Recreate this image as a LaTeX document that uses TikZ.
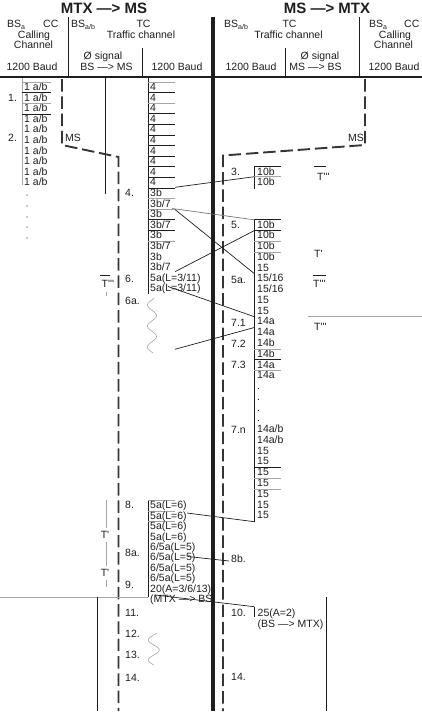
\documentclass[tikz,border=0pt]{standalone}
\usepackage{tikz}
\usepackage{fontspec}
\setmainfont{Liberation Sans}
\definecolor{ink}{HTML}{1E1E1E}
\definecolor{gry}{HTML}{A6A6A6}
\newcommand\tq{\textquotesingle}
\newcommand\sbs[1]{\raisebox{-1.8pt}{\fontsize{7}{7}\selectfont #1}}
\begin{document}
\begin{tikzpicture}[x=1pt,y=-1pt,
  txt/.style={inner sep=0pt, font=\fontsize{10.5}{11}\selectfont, text=ink},
  rowt/.style={txt, anchor=base west},
  hd/.style={txt, anchor=base},
  ttl/.style={inner sep=0pt, font=\fontsize{15}{16}\selectfont\bfseries, text=ink, anchor=base},
  dk/.style={draw=ink, line width=0.8pt},
  gy/.style={draw=gry, line width=0.8pt},
  msline/.style={draw=ink!90, line width=1.9pt, dash pattern=on 12.5pt off 4.8pt},
  axisline/.style={draw=ink, line width=3.3pt},
  msg/.style={draw=ink, line width=0.7pt},
  wave/.style={draw=gry, line width=0.6pt},
]
\useasboundingbox (0,0) rectangle (422,720);

% ---------- header ----------
\node[ttl] (t1) at (104,13.4) {MTX —> MS};
\node[ttl] (t2) at (327,13.4) {MS —> MTX};

\node[hd, anchor=base west] (h1) at (7,27.8) {BS\sbs{a}};
\node[hd, anchor=base west] (h2) at (43,27.8) {CC};
\node[hd] (h3) at (34,38.3) {Calling};
\node[hd] (h4) at (33.5,48.3) {Channel};
\node[hd] (h5) at (32,70.7) {1200 Baud};
\node[hd, anchor=base west] (h6) at (71,27.8) {BS\sbs{a/b}};
\node[hd] (h7) at (143.5,27.8) {TC};
\node[hd] (h8) at (141,38.3) {Traffic channel};
\node[hd] (h9) at (103,59.3) {Ø signal};
\node[hd] (h10) at (106.5,70.7) {BS —> MS};
\node[hd] (h11) at (177,70.7) {1200 Baud};

\node[hd, anchor=base west] (h12) at (224,27.8) {BS\sbs{a/b}};
\node[hd] (h13) at (289.5,27.8) {TC};
\node[hd] (h14) at (288.5,38.3) {Traffic channel};
\node[hd] (h15) at (320,59.3) {Ø signal};
\node[hd] (h16) at (315.5,70.7) {MS —> BS};
\node[hd] (h17) at (251,70.7) {1200 Baud};
\node[hd, anchor=base west] (h18) at (369,27.8) {BS\sbs{a}};
\node[hd, anchor=base west] (h19) at (404,27.8) {CC};
\node[hd] (h20) at (395,38.3) {Calling};
\node[hd] (h21) at (393.5,48.3) {Channel};
\node[hd] (h22) at (394,70.7) {1200 Baud};

\draw[dk] (68,17) -- (68,77);
\draw[dk] (142,48) -- (142,77);
\draw[dk] (285,48) -- (285,77);
\draw[dk] (359,17) -- (359,77);
\draw[draw=ink, line width=2.6pt] (0,77) -- (422,77);
\draw[axisline] (213,17) -- (213,711);

% ---------- left body lines ----------
\draw[gy] (22,78) -- (22,185);
\draw[dk] (105,78) -- (105,194);
\draw[dk] (148,78) -- (148,294);
\draw[msline] (62,79) -- (62,145) -- (118.5,157) -- (118.5,711);
\draw[msline] (365,79) -- (365,145) -- (223,155.5) -- (223,711);
\node[rowt] (msl) at (65,141.5) {MS};
\node[rowt, anchor=base east] (msr) at (364,141.5) {MS};

% 1 a/b column and 4 column
\foreach \i in {0,...,9}{
  \node[rowt] (ab\i) at (24,{86.7+10.6*\i+3.7}) {1 a/b};
  \node[rowt] (f\i) at (150,{86.7+10.6*\i+3.7}) {4};
}
\draw[gy] (22,82.2) -- (51,82.2);
\draw[dk] (22,92.8) -- (51,92.8);
\draw[gy] (22,103.4) -- (51,103.4);
\draw[dk] (22,114) -- (51,114);
\node[rowt] (s1) at (8,101) {1.};
\node[rowt] (s2) at (8,141.4) {2.};
\foreach \d [count=\i] in {195,206,217,227,238}
  \fill[ink] (27,\d) circle (0.55) coordinate (dot\i);

\foreach \k/\s in {0/gy,1/dk,2/gy,3/dk,4/dk,5/dk,6/dk,7/dk,8/dk,9/dk,10/dk,11/gy,12/gy,13/dk,14/dk,15/gy}
  \draw[\s] (148,{86.7+10.6*\k-4.7}) -- (175,{86.7+10.6*\k-4.7});
\foreach \t [count=\j from 10] in {3b,3b/7,3b,3b/7,3b,3b/7,3b,3b/7,5a(L=3/11),5a(L=3/11)}
  \node[rowt] (g\j) at (150,{86.7+10.6*\j+3.7}) {\t};

% left step labels
\node[rowt] (s4) at (125,196.4) {4.};
\node[rowt] (s6) at (125,282.7) {6.};
\node[rowt] (s6a) at (125,304.7) {6a.};
\node[rowt] (s8) at (125,508.7) {8.};
\node[rowt] (s8a) at (125,556.7) {8a.};
\node[rowt] (s9) at (125,588.7) {9.};
\node[rowt] (s11) at (125,616.2) {11.};
\node[rowt] (s12) at (125,637.7) {12.};
\node[rowt] (s13) at (125,658.7) {13.};
\node[rowt] (s14) at (125,681.2) {14.};

% left T marks
\draw[dk] (100,275) -- (110,275);
\node[rowt] (tl1) at (101.5,287.7) {T\tq\tq\tq};
\draw[gy] (106,292) -- (106,296);
\draw[gy] (106,500) -- (106,528);
\node[hd] (tl2) at (105,538.7) {T\tq};
\draw[gy] (106,542) -- (106,566);
\node[hd] (tl3) at (105,576.7) {T\tq};
\draw[gy] (106,580) -- (106,587);

% waves
\draw[wave] plot[smooth, domain=298:353, samples=70, variable=\w] ({152+4.5*sin((\w-305)/21*360-90)}, {\w});
\draw[wave] plot[smooth, domain=633:665, samples=50, variable=\w] ({153.8+5.5*sin((\w-640)/20*360-90)}, {\w});

% left bottom group
\draw[dk] (148,500) -- (148,597);
\draw[gy] (148,500) -- (175,500);
\draw[gy] (148,511) -- (175,511);
\draw[gy] (148,521) -- (175,521);
\node[rowt] (k1) at (150,508.7) {5a(L=6)};
\node[rowt] (k2) at (150,519.2) {5a(L=6)};
\node[rowt] (k3) at (150,529.7) {5a(L=6)};
\node[rowt] (k4) at (150,540.2) {5a(L=6)};
\node[rowt] (k5) at (150,550.7) {6/5a(L=5)};
\node[rowt] (k6) at (150,560.7) {6/5a(L=5)};
\node[rowt] (k7) at (150,571.2) {6/5a(L=5)};
\node[rowt] (k8) at (150,581.7) {6/5a(L=5)};
\node[rowt] (k9) at (150,592.2) {20(A=3/6/13)};
\node[rowt] (k10) at (150,602.2) {(MTX —> BS)};
\draw[gy] (0,597) -- (148,597);
\draw[dk] (97,597) -- (97,711);

% ---------- right body ----------
\draw[dk] (254.3,166.7) -- (254.3,189);
\draw[dk] (254.3,166.7) -- (281,166.7);
\draw[gy] (254.3,176.7) -- (281,176.7);
\node[rowt] (r31) at (257,175.7) {10b};
\node[rowt] (r32) at (257,185.7) {10b};

\draw[dk] (254.3,219.8) -- (254.3,521.7);
\foreach \t [count=\k from 0] in {10b,10b,10b,10b,15,15/16,15/16,15,15,14a,14a,14b,14b,14a,14a,.,.,.,.,14a/b,14a/b,15,15,15,15,15,15,15}
  \node[rowt] (q\k) at (257,{224.3+10.77*\k+3.7}) {\t};
\foreach \k/\s in {0/dk,1/dk,2/gy,3/gy,12/gy,13/dk,14/gy,23/dk,24/gy,25/gy}
  \draw[\s] (254.3,{224.3+10.77*\k-4.5}) -- (281,{224.3+10.77*\k-4.5});

\node[rowt] (p3) at (231,175.7) {3.};
\node[rowt] (p5) at (231,228.7) {5.};
\node[rowt] (p5a) at (231,283.2) {5a.};
\node[rowt] (p71) at (231,326.7) {7.1};
\node[rowt] (p72) at (231,347.2) {7.2};
\node[rowt] (p73) at (231,368.7) {7.3};
\node[rowt] (p7n) at (231,433.7) {7.n};
\node[rowt] (p8b) at (231,562.7) {8b.};
\node[rowt] (p10) at (231,616.2) {10.};
\node[rowt] (p14) at (231,680.7) {14.};

% right T marks
\draw[dk] (314,166.7) -- (326,166.7);
\node[rowt] (tr1) at (317,180.7) {T\tq\tq\tq};
\node[rowt] (tr2) at (314,257) {T\tq};
\draw[dk] (313,275) -- (326,275);
\node[rowt] (tr3) at (313,287.7) {T\tq\tq\tq};
\draw[gy] (308,316.7) -- (422,316.7);
\node[rowt] (tr4) at (314,330.4) {T\tq\tq\tq};

% right bottom
\draw[dk] (254.3,606.7) -- (254.3,616.5);
\node[rowt] (u1) at (257.5,616.4) {25(A=2)};
\node[rowt] (u2) at (257.5,627) {(BS —> MTX)};
\draw[dk] (326,597) -- (326,711);

% ---------- messages ----------
\coordinate (a1) at (175,187.3);   \coordinate (b1) at (254.3,176.7);
\coordinate (a2) at (172,208.5);   \coordinate (b2) at (254.3,219.8);
\coordinate (a3) at (175,209.5);   \coordinate (b3) at (254.3,273.6);
\coordinate (a4) at (175,271.7);   \coordinate (b4) at (254.3,230.6);
\coordinate (a5) at (168,286.5);   \coordinate (b5) at (254.3,316.7);
\coordinate (a6) at (175,349.3);   \coordinate (b6) at (254.3,327.5);
\coordinate (a7) at (187,513);     \coordinate (b7) at (254.3,521.7);
\coordinate (a8) at (188,556.5);   \coordinate (b8) at (229,561);
\coordinate (a9) at (155,595);     \coordinate (b9) at (254.3,606.7);
\draw[msg] (a1) -- (b1);
\draw[msg, draw=ink!60] (a2) -- (b2);
\draw[msg] (a3) -- (b3);
\draw[msg] (a4) -- (b4);
\draw[msg] (a5) -- (b5);
\draw[msg] (a6) -- (b6);
\draw[msg] (a7) -- (b7);
\draw[msg] (a8) -- (b8);
\draw[msg] (a9) -- (b9);
\end{tikzpicture}
\end{document}
